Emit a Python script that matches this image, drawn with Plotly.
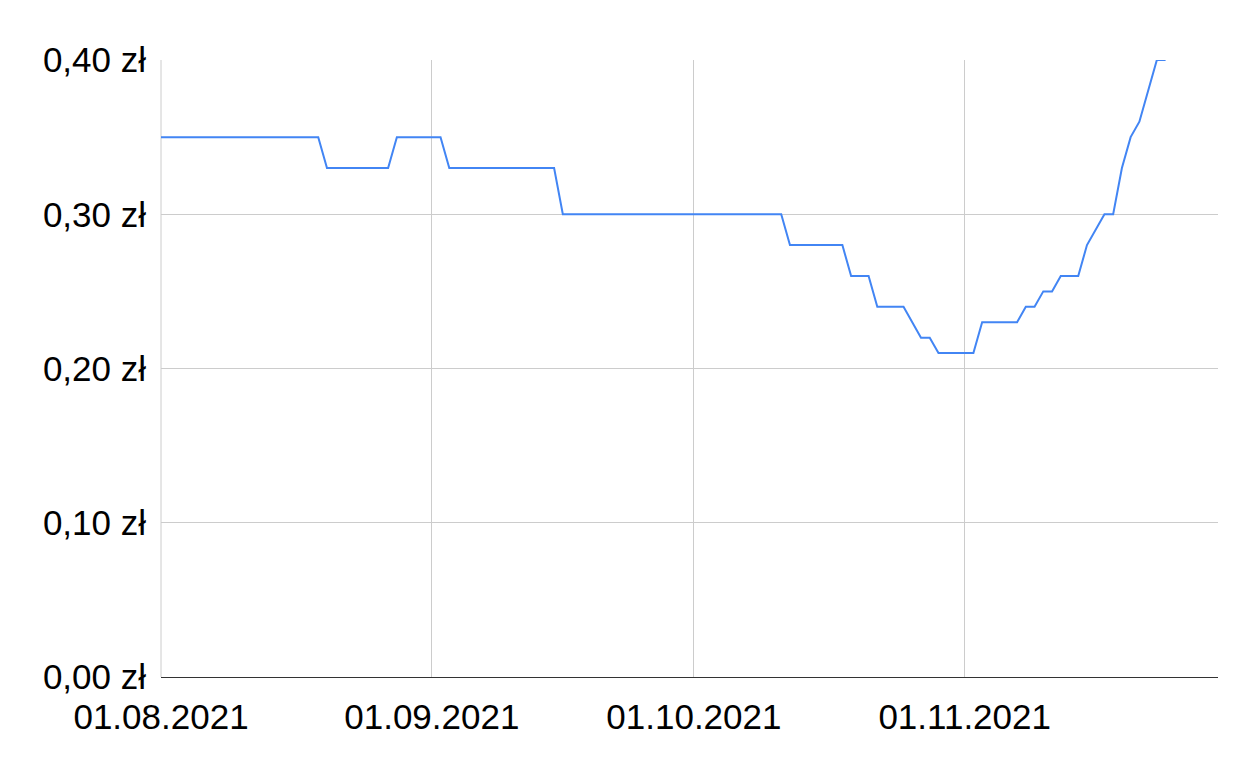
import plotly.graph_objects as go

# corner points of the price line
dates = [
    '2021-08-01', '2021-08-19', '2021-08-20', '2021-08-27', '2021-08-28',
    '2021-09-02', '2021-09-03', '2021-09-15', '2021-09-16', '2021-10-11',
    '2021-10-12', '2021-10-18', '2021-10-19', '2021-10-21', '2021-10-22',
    '2021-10-25', '2021-10-27', '2021-10-28', '2021-10-29', '2021-11-02',
    '2021-11-03', '2021-11-07', '2021-11-08', '2021-11-09', '2021-11-10',
    '2021-11-11', '2021-11-12', '2021-11-14', '2021-11-15', '2021-11-17',
    '2021-11-18', '2021-11-19', '2021-11-20', '2021-11-21', '2021-11-23',
    '2021-11-24',
]
prices = [
    0.35, 0.35, 0.33, 0.33, 0.35,
    0.35, 0.33, 0.33, 0.30, 0.30,
    0.28, 0.28, 0.26, 0.26, 0.24,
    0.24, 0.22, 0.22, 0.21, 0.21,
    0.23, 0.23, 0.24, 0.24, 0.25,
    0.25, 0.26, 0.26, 0.28, 0.30,
    0.30, 0.33, 0.35, 0.36, 0.40,
    0.40,
]

x_ticks = ['2021-08-01', '2021-09-01', '2021-10-01', '2021-11-01']
x_labels = ['01.08.2021', '01.09.2021', '01.10.2021', '01.11.2021']
y_ticks = [0, 0.1, 0.2, 0.3, 0.4]
y_labels = ['0,00 zł', '0,10 zł', '0,20 zł', '0,30 zł', '0,40 zł']

fig = go.Figure()
fig.add_trace(go.Scatter(
    x=dates,
    y=prices,
    mode='lines',
    line=dict(color='#4285F4', width=2),
    hoverinfo='x+y',
))

fig.update_layout(
    width=1257,
    height=776,
    # page body adds 8px, so margins are shifted by that
    margin=dict(l=153, r=47, t=52, b=107),
    paper_bgcolor='white',
    plot_bgcolor='white',
    showlegend=False,
    font=dict(family='Liberation Sans, Arial, sans-serif', size=35, color='#000000'),
    xaxis={
        'range': ['2021-08-01', '2021-11-30'],
        'tickmode': 'array',
        'tickvals': x_ticks,
        'ticktext': x_labels,
        'showgrid': True,
        'gridcolor': '#cccccc',
        'gridwidth': 1,
        'showline': True,
        'linecolor': '#333333',
        'linewidth': 1,
        'zeroline': False,
        'ticks': '',
        'automargin': False,
        'ticklabelstandoff': 9,
    },
    yaxis={
        'range': [0, 0.4],
        'tickmode': 'array',
        'tickvals': y_ticks,
        'ticktext': y_labels,
        'showgrid': True,
        'gridcolor': '#cccccc',
        'gridwidth': 1,
        'zeroline': False,
        'showline': False,
        'ticks': '',
        'automargin': False,
        'ticklabelstandoff': 14,
    },
)

# light left border of the plot area
fig.add_shape(type='line', xref='paper', yref='paper', x0=0, x1=0, y0=0, y1=1,
              line=dict(color='#cccccc', width=1), layer='below')

fig.write_html("out.html")
